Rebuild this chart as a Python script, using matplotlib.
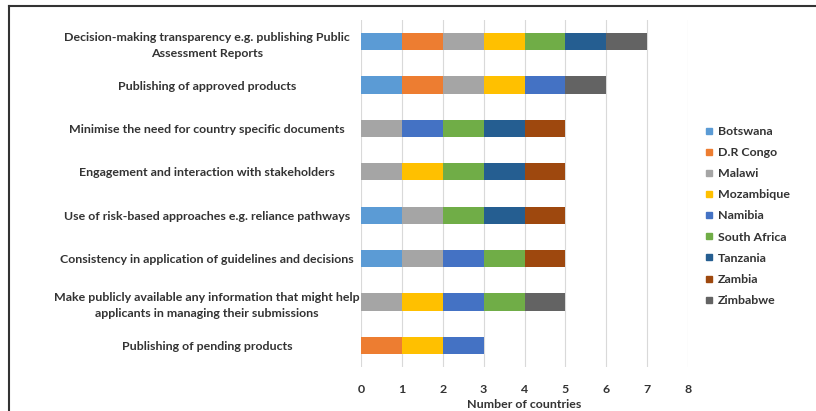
import matplotlib
matplotlib.use("Agg")
import matplotlib.pyplot as plt
from matplotlib.lines import Line2D
import numpy as np

plt.rcParams['font.family'] = ['Lato', 'DejaVu Sans']

categories = [
    "Decision-making transparency e.g. publishing Public\nAssessment Reports",
    "Publishing of approved products",
    "Minimise the need for country specific documents",
    "Engagement and interaction with stakeholders",
    "Use of risk-based approaches e.g. reliance pathways",
    "Consistency in application of guidelines and decisions",
    "Make publicly available any information that might help\napplicants in managing their submissions",
    "Publishing of pending products",
]
countries = ["Botswana", "D.R Congo", "Malawi", "Mozambique", "Namibia",
             "South Africa", "Tanzania", "Zambia", "Zimbabwe"]
botswana     = [1, 1, 0, 0, 1, 1, 0, 0]
dr_congo     = [1, 1, 0, 0, 0, 0, 0, 1]
malawi       = [1, 1, 1, 1, 1, 1, 1, 0]
mozambique   = [1, 1, 0, 1, 0, 0, 1, 1]
namibia      = [0, 1, 1, 0, 0, 1, 1, 1]
south_africa = [1, 0, 1, 1, 1, 1, 1, 0]
tanzania     = [1, 0, 1, 1, 1, 0, 0, 0]
zambia       = [0, 0, 1, 1, 1, 1, 0, 0]
zimbabwe     = [1, 1, 0, 0, 0, 0, 1, 0]
series = [botswana, dr_congo, malawi, mozambique, namibia,
          south_africa, tanzania, zambia, zimbabwe]
colors = ["#5B9BD5", "#ED7D31", "#A5A5A5", "#FFC000", "#4472C4",
          "#70AD47", "#255E91", "#9E480E", "#636363"]
x_ticks = [0, 1, 2, 3, 4, 5, 6, 7, 8]

FS = 8.9
TXT = '#333333'

fig = plt.figure(figsize=(8.16, 4.11), dpi=100)
ax = fig.add_axes([361/816, 1-367/411, (688-361)/816, (367-20)/411])

y = np.arange(len(categories))[::-1]
left = np.zeros(len(categories))
handles = []
for name, vals, c in zip(countries, series, colors):
    vals = np.array(vals, dtype=float)
    ax.barh(y, vals, left=left, height=0.4, color=c, label=name, zorder=3)
    left += vals
    handles.append(Line2D([], [], marker='s', linestyle='none', markersize=5,
                          markerfacecolor=c, markeredgecolor=c, label=name))

ax.set_xlim(0, 8)
ax.set_ylim(-0.5, len(categories) - 0.5)
ax.set_xticks(x_ticks)
ax.set_yticks(y)
ax.set_yticklabels(categories, ha='center', fontsize=FS, fontweight='bold', color=TXT)
for lab in ax.get_yticklabels():
    lab.set_multialignment('center')
    lab.set_linespacing(1.6)
ax.tick_params(axis='y', length=0, pad=111)
ax.tick_params(axis='x', length=0, labelsize=FS, labelcolor=TXT, pad=12)
for lab in ax.get_xticklabels():
    lab.set_fontweight('bold')
ax.xaxis.grid(True, color='#D9D9D9', linewidth=0.8, zorder=0)
for s in ax.spines.values():
    s.set_visible(False)
ax.set_xlabel("Number of countries", fontsize=FS, fontweight='bold', color=TXT, labelpad=3)

leg = fig.legend(handles=handles, loc='upper left', bbox_to_anchor=(700/816, 1-121/411),
                 frameon=False, fontsize=FS, handlelength=0.6, handletextpad=0.45,
                 labelspacing=0.82, borderaxespad=0)
for t in leg.get_texts():
    t.set_fontweight('bold')
    t.set_color(TXT)

# outer frame lines (left and top)
fig.add_artist(Line2D([9/816, 9/816], [0, 1-6/411], transform=fig.transFigure,
                      color='#333333', linewidth=1.5))
fig.add_artist(Line2D([9/816, 1], [1-6/411, 1-6/411], transform=fig.transFigure,
                      color='#333333', linewidth=1.5))

fig.savefig("out.png", dpi=100)
